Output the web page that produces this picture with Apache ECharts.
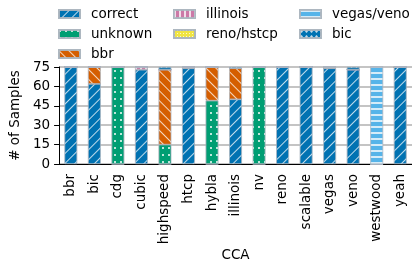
<!DOCTYPE html>
<html>
<head>
<meta charset="utf-8">
<script src="https://cdn.jsdelivr.net/npm/echarts@6/dist/echarts.min.js"></script>
<style>
  html, body { margin: 0; padding: 0; background: #fff; }
  #chart { width: 412px; height: 269px; }
</style>
</head>
<body>
<div id="chart"></div>
<script>
// CCA categories on the x axis
var categories = ['bbr', 'bic', 'cdg', 'cubic', 'highspeed', 'htcp', 'hybla', 'illinois',
    'nv', 'reno', 'scalable', 'vegas', 'veno', 'westwood', 'yeah'];
// stacked counts, one per classification outcome
var correct    = [75, 62, 0, 73, 0, 74, 0, 50, 0, 75, 75, 74, 73, 0, 75];
var unknown    = [0, 0, 75, 0, 15, 0, 49, 0, 75, 0, 0, 0, 0, 0, 0];
var bbr        = [0, 13, 0, 0, 58, 1, 26, 24, 0, 0, 0, 0, 0, 0, 0];
var illinois   = [0, 0, 0, 2, 0, 0, 0, 0, 0, 0, 0, 0, 0, 0, 0];
var renoHstcp  = [0, 0, 0, 0, 0, 0, 0, 0, 0, 0, 0, 1, 0, 0, 0];
var vegasVeno  = [0, 0, 0, 0, 0, 0, 0, 0, 0, 0, 0, 0, 0, 75, 0];
var bic        = [0, 0, 0, 0, 2, 0, 0, 1, 0, 0, 0, 0, 2, 0, 0];
var yTicks = [0, 15, 30, 45, 60, 75];

var FONT = 'DejaVu Sans';
var hatch = 'rgba(255,255,255,0.75)';

// hatch patterns (matplotlib-ish)
var decals = {
    slash:  { symbol: 'rect', color: hatch, dashArrayX: [1, 0], dashArrayY: [1, 5.4], rotation: -Math.PI / 4 },
    back:   { symbol: 'rect', color: hatch, dashArrayX: [1, 0], dashArrayY: [1, 5.4], rotation: Math.PI / 4 },
    dots:   { symbol: 'rect', color: hatch, dashArrayX: [2, 4], dashArrayY: [2, 4.5] },
    vert:   { symbol: 'rect', color: hatch, dashArrayX: [1.2, 2.8], dashArrayY: [1, 0] },
    small:  { symbol: 'rect', color: hatch, dashArrayX: [1, 2], dashArrayY: [1, 2] },
    horiz:  { symbol: 'rect', color: hatch, dashArrayX: [1, 0], dashArrayY: [1.2, 3.3] },
    stars:  { symbol: 'diamond', color: hatch, dashArrayX: [3, 2], dashArrayY: [3, 1.5] }
};

function mkSeries(name, data, color, decal) {
    return {
        name: name,
        type: 'bar',
        stack: 'all',
        barWidth: 12.7,
        data: data,
        itemStyle: {
            color: color,
            borderColor: 'rgba(170,180,190,0.8)',
            borderWidth: 0.6,
            decal: decal
        }
    };
}

var legendBase = {
    orient: 'vertical',
    top: 7,
    padding: 0,
    itemWidth: 21,
    itemHeight: 8,
    itemGap: 6,
    icon: 'rect',
    selectedMode: false,
    textStyle: { fontFamily: FONT, fontSize: 13.5, color: '#000', lineHeight: 14, padding: [0, 0, 0, 6] }
};

var chart = echarts.init(document.getElementById('chart'), null, { renderer: 'canvas' });
var option = {
    animation: false,
    legend: [
        Object.assign({}, legendBase, { left: 58, data: ['correct', 'unknown', 'bbr'] }),
        Object.assign({}, legendBase, { left: 173, data: ['illinois', 'reno/hstcp'] }),
        Object.assign({}, legendBase, { left: 299, data: ['vegas/veno', 'bic'] })
    ],
    grid: { left: 54, right: -2, top: 67, bottom: 105, containLabel: false },
    xAxis: {
        type: 'category',
        data: categories,
        name: 'CCA',
        nameLocation: 'middle',
        nameGap: 84,
        nameTextStyle: { fontFamily: FONT, fontSize: 13.5, color: '#000' },
        axisLine: { lineStyle: { color: '#000', width: 1 } },
        axisTick: { alignWithLabel: true, length: 5, lineStyle: { color: '#000' } },
        axisLabel: { rotate: 90, interval: 0, margin: 10, fontFamily: FONT, fontSize: 13.5, color: '#000' }
    },
    yAxis: {
        type: 'value',
        min: yTicks[0],
        max: yTicks[yTicks.length - 1],
        interval: 15,
        name: '# of Samples',
        nameLocation: 'middle',
        nameGap: 27,
        nameTextStyle: { fontFamily: FONT, fontSize: 13.5, color: '#000' },
        axisLine: { show: true, lineStyle: { color: '#000', width: 1 } },
        axisTick: { show: true, length: 5, lineStyle: { color: '#000' } },
        axisLabel: { margin: 9, fontFamily: FONT, fontSize: 13.5, color: '#000' },
        splitLine: { show: true, lineStyle: { color: '#b0b0b0', width: 1.5 } }
    },
    series: [
        mkSeries('correct', correct, '#0072B2', decals.slash),
        mkSeries('unknown', unknown, '#009E73', decals.dots),
        mkSeries('bbr', bbr, '#D55E00', decals.back),
        mkSeries('illinois', illinois, '#CC79A7', decals.vert),
        mkSeries('reno/hstcp', renoHstcp, '#F0E442', decals.small),
        mkSeries('vegas/veno', vegasVeno, '#56B4E9', decals.horiz),
        mkSeries('bic', bic, '#0072B2', decals.stars)
    ]
};
chart.setOption(option);
</script>
</body>
</html>
